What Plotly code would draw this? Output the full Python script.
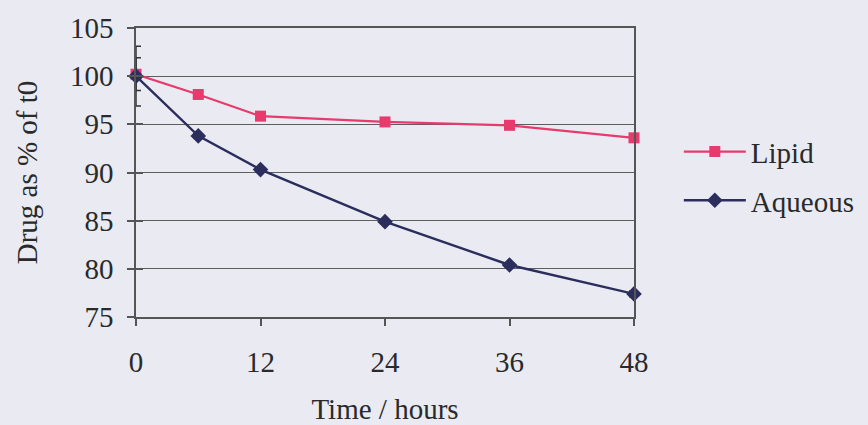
import plotly.graph_objects as go

time_h = [0, 6, 12, 24, 36, 48]
lipid = [100.2, 98.1, 95.85, 95.25, 94.9, 93.6]
lipid_err = [1.7, 0.3, 0.3, 0.3, 0.4, 0.4]
aqueous = [100.0, 93.8, 90.3, 84.9, 80.4, 77.4]
aqueous_err = [3.1, 0.2, 0.2, 0.2, 0.2, 0.3]
x_ticks = [0, 12, 24, 36, 48]
y_ticks = [75, 80, 85, 90, 95, 100, 105]

bg = "#e9eaf2"
font_family = "Liberation Serif, serif"
fs = 29

fig = go.Figure()
fig.add_trace(go.Scatter(
    x=time_h, y=lipid, name="Lipid", mode="lines+markers", legendgroup="a",
    line=dict(color="#e83a6c", width=2.2), cliponaxis=False,
    marker=dict(symbol="square", size=11, color="#e83a6c"),
    error_y=dict(type="data", array=lipid_err, color="#333333", thickness=1.5, width=5),
))
fig.add_trace(go.Scatter(
    x=time_h, y=aqueous, name="Aqueous", mode="lines+markers", legendgroup="b",
    line=dict(color="#2b2d5c", width=2.4), cliponaxis=False,
    marker=dict(symbol="diamond", size=12, color="#2b2d5c"),
    error_y=dict(type="data", array=aqueous_err, color="#333333", thickness=1.5, width=5),
))
# invisible trace on overlay axis to give y ticks that cross the axis line
fig.add_trace(go.Scatter(x=[24], y=[90], yaxis="y2", showlegend=False,
                         mode="markers", marker=dict(opacity=0), hoverinfo="skip"))

fig.update_layout(
    width=868, height=425,
    paper_bgcolor=bg, plot_bgcolor=bg,
    margin=dict(l=136, r=234, t=28, b=108, autoexpand=False),
    font=dict(family=font_family, size=fs, color="#2a2a2a"),
    legend=dict(x=1.09, y=0.66, xanchor="left", yanchor="top",
                bgcolor="rgba(0,0,0,0)", font=dict(size=fs), itemwidth=62,
                traceorder="grouped", tracegroupgap=8),
    showlegend=True,
    yaxis2=dict(overlaying="y", side="left", anchor="x", range=[75, 105], tickvals=y_ticks,
                ticks="inside", ticklen=7, tickwidth=1.5, tickcolor="#555",
                showticklabels=False, showgrid=False, zeroline=False, showline=False),
)
fig.update_xaxes(
    range=[0, 48], tickvals=x_ticks, ticks="outside", ticklen=7, tickwidth=1.5, tickcolor="#555",
    showline=True, linecolor="#555", linewidth=1.5, mirror=True,
    showgrid=False, zeroline=False, ticklabelstandoff=11,
    title=dict(text="Time / hours", font=dict(size=fs), standoff=29),
    tickfont=dict(size=fs),
)
fig.layout.yaxis.update(
    range=[75, 105], tickvals=y_ticks, ticks="outside", ticklen=7, tickwidth=1.5, tickcolor="#555",
    showline=True, linecolor="#555", linewidth=1.5, mirror=True,
    showgrid=True, gridcolor="#5e5e5e", gridwidth=1.2, zeroline=False,
    ticklabelstandoff=8,
    title=dict(text="Drug as % of t0", font=dict(size=fs), standoff=24),
    tickfont=dict(size=fs),
)
fig.write_html("out.html", config={"displayModeBar": False},
               post_script="document.body.style.margin='0';document.body.style.background='%s';" % bg)
